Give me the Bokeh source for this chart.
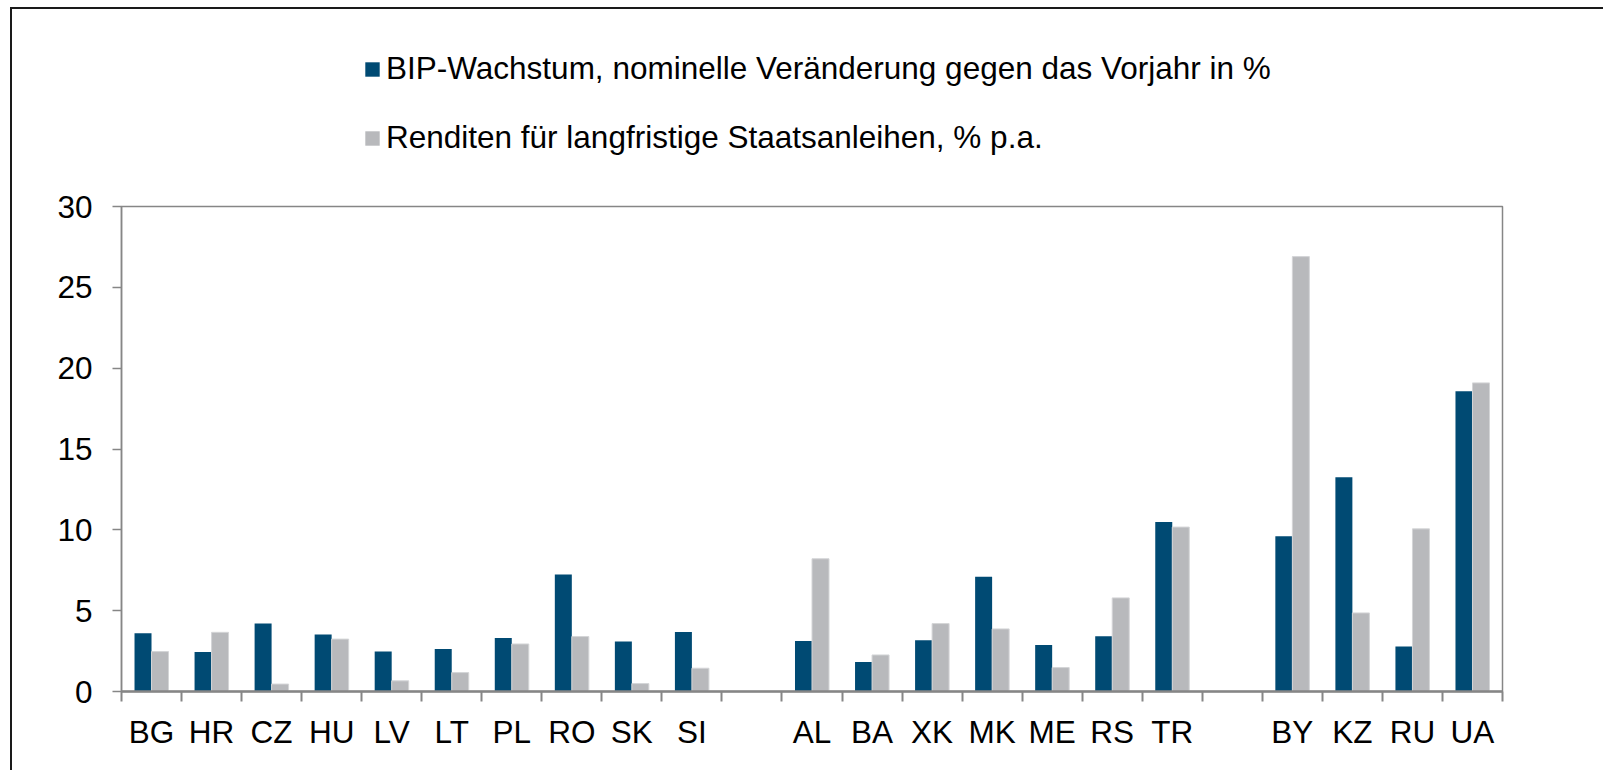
from bokeh.plotting import figure
from bokeh.models import (ColumnDataSource, FixedTicker, Legend, LegendItem, Range1d)
from bokeh.layouts import column
from bokeh.transform import dodge
from bokeh.embed import file_html
from bokeh.resources import INLINE

# ---- data -------------------------------------------------------------
categories = ["BG", "HR", "CZ", "HU", "LV", "LT", "PL", "RO", "SK", "SI", "",
              "AL", "BA", "XK", "MK", "ME", "RS", "TR", "",
              "BY", "KZ", "RU", "UA"]
bip_growth = [3.60, 2.45, 4.21, 3.53, 2.48, 2.63, 3.31, 7.24, 3.09, 3.68, None,
              3.13, 1.83, 3.17, 7.10, 2.88, 3.42, 10.48, None,
              9.61, 13.26, 2.78, 18.57]
bond_yield = [2.47, 3.66, 0.46, 3.24, 0.66, 1.17, 2.94, 3.40, 0.49, 1.44, None,
              8.21, 2.26, 4.20, 3.87, 1.48, 5.79, 10.17, None,
              26.90, 4.86, 10.06, 19.09]
legend_labels = ["BIP-Wachstum, nominelle Veränderung gegen das Vorjahr in %",
                 "Renditen für langfristige Staatsanleihen, % p.a."]
y_ticks = [0, 5, 10, 15, 20, 25, 30]

BLUE = "#004A73"
GREY = "#B8B9BC"
AXIS = "#868686"
FONT = "Liberation Sans"
FS = "31.5px"

W = 1591
H_TOP = 170
H_CHART = 591

n = len(categories)
idx = [i for i, c in enumerate(categories) if c]
centers = [i + 0.5 for i in idx]
src_a = ColumnDataSource(dict(x=centers, top=[bip_growth[i] for i in idx]))
src_b = ColumnDataSource(dict(x=centers, top=[bond_yield[i] for i in idx]))

# ---- legend panel -------------------------------------------------------
top = figure(width=W, height=H_TOP, output_backend="svg", toolbar_location=None,
             x_range=Range1d(0, 1), y_range=Range1d(0, 1),
             x_axis_location=None, y_axis_location=None, min_border=0)
top.grid.visible = False
top.outline_line_color = None
top.background_fill_color = "white"
top.border_fill_color = "white"
# zero-height placeholder glyphs, only used for the legend swatches
la = top.vbar(x=[0.5], top=[0], bottom=[0], width=0.01, fill_color=BLUE, line_color=None)
lb = top.vbar(x=[0.5], top=[0], bottom=[0], width=0.01, fill_color=GREY, line_color=None)
legend = Legend(items=[LegendItem(label=legend_labels[0], renderers=[la]),
                       LegendItem(label=legend_labels[1], renderers=[lb])],
                location=(242, 23), orientation="vertical",
                glyph_width=18, glyph_height=18, label_height=30,
                label_standoff=5, spacing=32, padding=0, margin=0,
                border_line_color=None, background_fill_alpha=0,
                label_text_font=FONT, label_text_font_size=FS,
                label_text_color="black")
top.add_layout(legend, "center")

# ---- chart --------------------------------------------------------------
p = figure(width=W, height=H_CHART, output_backend="svg", toolbar_location=None,
           x_range=Range1d(0, n), y_range=Range1d(0, 30),
           min_border_left=109, min_border_right=W - 1490,
           min_border_top=27, min_border_bottom=79)

bw = 0.283
off = 0.1417
p.vbar(x=dodge("x", -off), top="top", width=bw, bottom=0, source=src_a,
       fill_color=BLUE, line_color=None)
p.vbar(x=dodge("x", off), top="top", width=bw, bottom=0, source=src_b,
       fill_color=GREY, line_color="#D4D5D7", line_width=1)

p.grid.visible = False
p.outline_line_color = AXIS
p.outline_line_width = 1.5

xa = p.xaxis[0]
xa.ticker = FixedTicker(ticks=centers, minor_ticks=list(range(n + 1)))
xa.major_label_overrides = {c: categories[i] for c, i in zip(centers, idx)}
xa.major_tick_out = 0
xa.major_tick_in = 0
xa.minor_tick_out = 10
xa.minor_tick_in = 0
xa.minor_tick_line_color = AXIS
xa.minor_tick_line_width = 2
xa.axis_line_color = AXIS
xa.axis_line_width = 2.5
xa.major_label_text_font = FONT
xa.major_label_text_font_size = FS
xa.major_label_text_color = "black"
xa.major_label_standoff = 12

ya = p.yaxis[0]
ya.ticker = FixedTicker(ticks=y_ticks)
ya.minor_tick_line_color = None
ya.major_tick_out = 9
ya.major_tick_in = 0
ya.major_tick_line_color = AXIS
ya.major_tick_line_width = 1.5
ya.axis_line_color = AXIS
ya.axis_line_width = 1.5
ya.major_label_text_font = FONT
ya.major_label_text_font_size = FS
ya.major_label_text_color = "black"
ya.major_label_standoff = 20

layout = column(top, p, spacing=0)
layout.styles = {"border-left": "2px solid #1a1a1a", "border-top": "2px solid #1a1a1a",
                 "margin-left": "10px", "margin-top": "7px"}

open("out.html", "w").write(file_html(layout, INLINE))
